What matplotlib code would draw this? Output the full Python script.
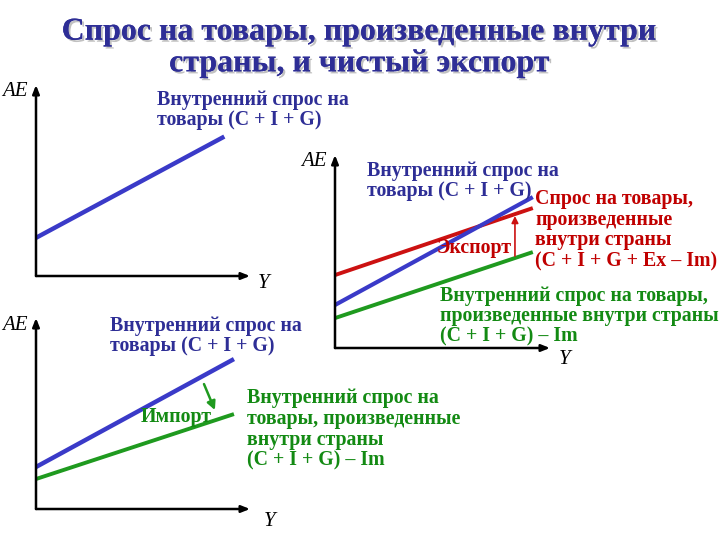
import matplotlib
matplotlib.use("Agg")
import matplotlib.pyplot as plt
import matplotlib.patheffects as pe

# ---------------- data (panel units 0..100) ----------------
# Panel 1: domestic demand C+I+G
p1_Y = [0, 88]
p1_blue = [20, 73]

# Panel 2: open economy
p2_Y = [0, 92]
p2_red = [37.8, 72.5]     # C+I+G+Ex-Im
p2_blue = [22.3, 78.2]    # C+I+G
p2_green = [15.5, 49.7]   # (C+I+G)-Im
p2_export_Y = 83.7

# Panel 3: imports
p3_Y = [0, 92.5]
p3_blue = [22, 78.5]
p3_green = [15.7, 49.7]
p3_import_from = (78.5, 65.4)
p3_import_to = (83.6, 51.8)

title_text = "Спрос на товары, произведенные внутри\nстраны, и чистый экспорт"
lbl_cig = "Внутренний спрос на\nтовары (C + I + G)"
lbl_red = "Спрос на товары,\nпроизведенные\nвнутри страны\n(C + I + G + Ex – Im)"
lbl_green2 = "Внутренний спрос на товары,\nпроизведенные внутри страны\n(C + I + G) – Im"
lbl_green3 = "Внутренний спрос на\nтовары, произведенные\nвнутри страны\n(C + I + G) – Im"

BLUE = "#3a3ac8"
RED = "#cc1111"
GREEN = "#1f9a1f"
TBLUE = "#2e2e96"
TRED = "#c00000"
TGREEN = "#138a13"
SERIF = ["Liberation Serif", "DejaVu Serif"]

W, H = 720, 540
fig = plt.figure(figsize=(7.2, 5.4), dpi=100)
fig.patch.set_facecolor("white")


def panel(x0, y_top, x1, y_bot):
    ax = fig.add_axes([x0 / W, 1 - y_bot / H, (x1 - x0) / W, (y_bot - y_top) / H])
    ax.set_xlim(0, 100)
    ax.set_ylim(0, 100)
    ax.axis("off")
    kw = dict(arrowstyle="-|>,head_length=0.5,head_width=0.2", color="black", lw=1.8,
              shrinkA=0, shrinkB=0)
    ax.annotate("", xy=(0, 100), xytext=(0, 0), arrowprops=kw, annotation_clip=False)
    ax.annotate("", xy=(100, 0), xytext=(0, 0), arrowprops=kw, annotation_clip=False)
    return ax


ax1 = panel(36, 85, 250, 276)
ax1.plot(p1_Y, p1_blue, color=BLUE, lw=3.2, solid_capstyle="butt", clip_on=False)

ax2 = panel(335, 155, 550, 348)
ax2.plot(p2_Y, p2_red, color=RED, lw=2.8, solid_capstyle="butt", clip_on=False)
ax2.plot(p2_Y, p2_blue, color=BLUE, lw=3.0, solid_capstyle="butt", clip_on=False)
ax2.plot(p2_Y, p2_green, color=GREEN, lw=2.8, solid_capstyle="butt", clip_on=False)
r_at = p2_red[0] + (p2_red[1] - p2_red[0]) * p2_export_Y / p2_Y[1]
g_at = p2_green[0] + (p2_green[1] - p2_green[0]) * p2_export_Y / p2_Y[1]
ax2.annotate("", xy=(p2_export_Y, r_at - 1), xytext=(p2_export_Y, g_at + 1),
             arrowprops=dict(arrowstyle="-|>,head_length=0.4,head_width=0.2", color=RED, lw=1.2,
                             shrinkA=0, shrinkB=0))

ax3 = panel(36, 318, 250, 509)
ax3.plot(p3_Y, p3_blue, color=BLUE, lw=3.2, solid_capstyle="butt", clip_on=False)
ax3.plot(p3_Y, p3_green, color=GREEN, lw=2.8, solid_capstyle="butt", clip_on=False)
ax3.annotate("", xy=p3_import_to, xytext=p3_import_from,
             arrowprops=dict(arrowstyle="-|>,head_length=0.5,head_width=0.25", color=GREEN, lw=1.8,
                             shrinkA=0, shrinkB=0))

# overlay for text in pixel coordinates
ov = fig.add_axes([0, 0, 1, 1], zorder=5)
ov.set_xlim(0, W)
ov.set_ylim(H, 0)
ov.axis("off")

ov.text(360, 48, title_text, ha="center", va="center", fontsize=23, fontweight="bold",
        family=SERIF, color=TBLUE, linespacing=1.12,
        path_effects=[pe.withSimplePatchShadow(offset=(1.5, -1.5), shadow_rgbFace="#999999", alpha=0.6),
                      pe.Normal()])

axis_kw = dict(fontsize=15, family=SERIF, style="italic", color="black", va="center")
ov.text(2, 92, "AE", ha="left", **axis_kw)
ov.text(258, 284, "Y", ha="left", **axis_kw)
ov.text(301, 161, "AE", ha="left", **axis_kw)
ov.text(559, 360, "Y", ha="left", **axis_kw)
ov.text(2, 325, "AE", ha="left", **axis_kw)
ov.text(264, 522, "Y", ha="left", **axis_kw)

FS = 14.3
lab = dict(fontsize=FS, fontweight="bold", family=SERIF, linespacing=1.0, va="top", ha="left")
ov.text(157, 90, lbl_cig, color=TBLUE, **lab)
ov.text(367, 161, lbl_cig, color=TBLUE, **lab)
ov.text(535, 189, lbl_red, color=TRED, **{**lab, "linespacing": 1.05})
ov.text(512, 248, "Экспорт", color=TRED, fontsize=FS, fontweight="bold", family=SERIF,
        ha="right", va="center")
ov.text(440, 286, lbl_green2, color=TGREEN, **lab)
ov.text(110, 316, lbl_cig, color=TBLUE, **lab)
ov.text(247, 388, lbl_green3, color=TGREEN, **{**lab, "linespacing": 1.05})
ov.text(212, 417, "Импорт", color=TGREEN, fontsize=FS, fontweight="bold", family=SERIF,
        ha="right", va="center")

fig.savefig("out.png", dpi=100)
